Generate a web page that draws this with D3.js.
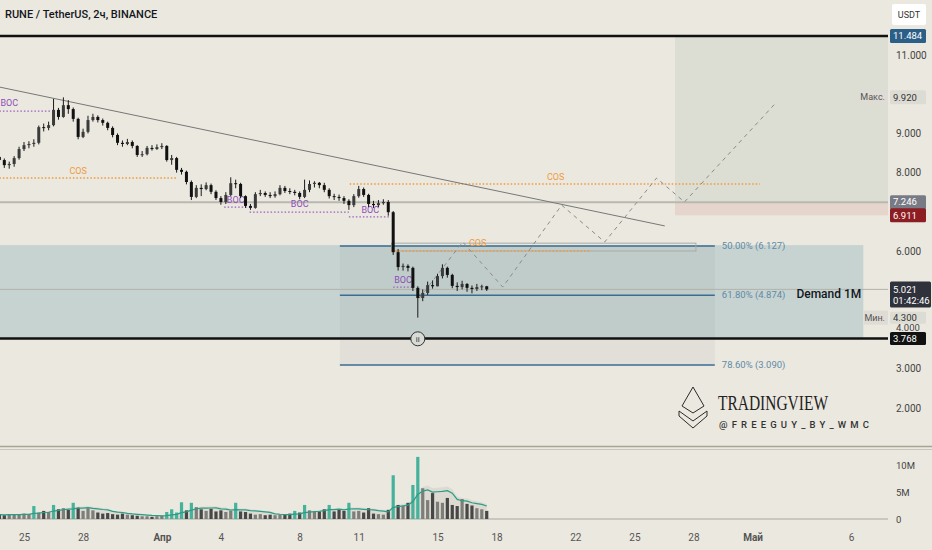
<!DOCTYPE html>
<html>
<head>
<meta charset="utf-8">
<script src="https://cdnjs.cloudflare.com/ajax/libs/d3/7.8.5/d3.min.js"></script>
<style>
  body { margin: 0; background: #ebe8df; overflow: hidden; }
  svg text { font-family: Roboto, "Liberation Sans", sans-serif; }
</style>
</head>
<body>
<div id="chart"></div>
<script>
// Velas de 6 horas, la primera empieza aqui
const startTime = "2024-03-23T18:00:00Z";
const firstOpen = 8.40;

const closes = [
  8.32, 8.19, 8.22, 8.37, 8.60, 8.70, 8.73, 8.76, 9.16, 9.14,
  9.21, 9.60, 9.42, 9.72, 9.62, 9.37, 8.91, 9.04, 9.34, 9.42,
  9.34, 9.27, 9.14, 8.96, 8.76, 8.73, 8.78, 8.68, 8.45, 8.47,
  8.63, 8.60, 8.65, 8.68, 8.32, 8.37, 8.07, 8.02, 7.76, 7.38,
  7.61, 7.58, 7.68, 7.51, 7.35, 7.25, 7.43, 7.73, 7.71, 7.40,
  7.15, 7.10, 7.45, 7.48, 7.43, 7.40, 7.45, 7.61, 7.53, 7.51,
  7.48, 7.38, 7.56, 7.71, 7.74, 7.68, 7.56, 7.40, 7.38, 7.35,
  7.28, 7.17, 7.40, 7.58, 7.43, 7.20, 7.17, 7.22, 7.25, 6.99,
  5.97, 5.59, 5.62, 5.57, 5.06, 4.80, 4.93, 5.13, 5.10, 5.36,
  5.57, 5.39, 5.11, 5.08, 5.16, 5.06, 5.03, 5.08, 5.10, 5.02
];
const highs = [
  8.45, 8.36, 8.28, 8.42, 8.66, 8.78, 8.80, 8.85, 9.20, 9.25,
  9.30, 9.88, 9.65, 9.92, 9.85, 9.66, 9.40, 9.12, 9.45, 9.50,
  9.46, 9.38, 9.30, 9.18, 9.00, 8.82, 8.86, 8.82, 8.70, 8.55,
  8.68, 8.70, 8.72, 8.75, 8.70, 8.45, 8.40, 8.12, 8.05, 7.80,
  7.68, 7.70, 7.75, 7.72, 7.55, 7.40, 7.50, 7.88, 7.82, 7.74,
  7.42, 7.20, 7.50, 7.56, 7.52, 7.50, 7.52, 7.68, 7.66, 7.60,
  7.56, 7.52, 7.82, 7.80, 7.78, 7.76, 7.74, 7.60, 7.46, 7.44,
  7.40, 7.32, 7.45, 7.66, 7.62, 7.46, 7.28, 7.30, 7.32, 7.30,
  7.02, 6.05, 5.68, 5.66, 5.60, 5.10, 5.02, 5.22, 5.25, 5.42,
  5.66, 5.60, 5.42, 5.20, 5.24, 5.18, 5.12, 5.16, 5.14, 5.11
];
const lows = [
  8.25, 8.12, 8.10, 8.15, 8.33, 8.55, 8.62, 8.66, 8.72, 9.05,
  9.08, 9.18, 9.35, 9.40, 9.50, 9.30, 8.85, 8.88, 9.00, 9.30,
  9.28, 9.20, 9.08, 8.90, 8.70, 8.66, 8.70, 8.62, 8.40, 8.40,
  8.44, 8.56, 8.58, 8.60, 8.28, 8.20, 8.00, 7.95, 7.70, 7.30,
  7.35, 7.40, 7.55, 7.45, 7.30, 7.18, 7.20, 7.40, 7.60, 7.35,
  7.10, 7.05, 7.08, 7.40, 7.38, 7.35, 7.36, 7.42, 7.48, 7.45,
  7.42, 7.32, 7.35, 7.50, 7.62, 7.60, 7.50, 7.34, 7.30, 7.28,
  7.20, 7.05, 7.12, 7.36, 7.38, 7.12, 7.10, 7.12, 7.18, 6.90,
  5.90, 5.50, 5.50, 5.48, 4.98, 4.30, 4.72, 4.88, 5.04, 5.10,
  5.30, 5.32, 5.05, 4.98, 5.02, 4.96, 4.92, 4.98, 5.00, 4.98
];
// volumen en millones
const volumes = [
  0.8, 0.7, 0.9, 0.8, 0.9, 1.0, 0.9, 2.4, 1.2, 1.5,
  1.3, 2.6, 1.8, 2.0, 1.7, 3.0, 2.1, 1.5, 2.0, 1.6,
  1.2, 1.0, 1.1, 0.9, 0.8, 1.0, 0.8, 0.7, 0.6, 0.5,
  0.5, 0.4, 0.5, 0.6, 1.3, 1.8, 1.2, 3.1, 1.6, 3.0,
  2.2, 1.8, 1.5, 1.9, 1.4, 1.6, 1.3, 1.5, 3.0, 1.4,
  1.3, 1.0, 0.8, 0.9, 0.7, 0.8, 0.7, 0.8, 0.9, 1.0,
  1.5, 1.2, 2.6, 1.6, 1.3, 1.4, 1.8, 2.6, 1.4, 1.8,
  1.5, 3.0, 1.4, 1.5, 1.2, 2.0, 1.0, 0.9, 0.8, 1.7,
  8.1, 2.6, 2.4, 3.0, 6.3, 11.5, 5.7, 3.5, 4.8, 3.2,
  3.0, 3.9, 2.6, 2.4, 3.7, 2.8, 2.5, 2.0, 1.8, 1.5
];

// Ejes (los ticks tapados por etiquetas no se muestran)
const priceTicks = [2, 3, 4, 6, 8, 9, 11];
const dateTicks = ["2024-03-25", "2024-03-28", "2024-04-01", "2024-04-04", "2024-04-08", "2024-04-11",
  "2024-04-15", "2024-04-18", "2024-04-22", "2024-04-25", "2024-04-28", "2024-05-01", "2024-05-06"];
const dateLabels = ["25", "28", "Апр", "4", "8", "11", "15", "18", "22", "25", "28", "Май", "6"];
const volumeTicks = [0, 5, 10];
const volumeLabels = ["0", "5M", "10M"];

// Niveles horizontales
const topLevel = 11.484;
const bottomLevel = 3.768;
const targetLevel = 7.246;
const stopLevel = 6.911;
const lastPrice = 5.021;
const maxPrice = 9.920;
const minPrice = 4.300;

// Zonas
const targetStart = "2024-04-27T01:30:00Z";
const demandTop = 6.15;
const demandEnd = "2024-05-06T15:00:00Z";

// Fibonacci
const fibLabels = ["50.00%", "61.80%", "78.60%"];
const fibPrices = [6.127, 4.874, 3.090];
const fibStart = "2024-04-10T01:00:00Z";
const fibEnd = "2024-04-29T02:00:00Z";

// Linea de tendencia
const trendDates = ["2024-03-23T18:40:00Z", "2024-04-26T13:00:00Z"];
const trendPrices = [10.18, 6.64];

// Proyeccion (linea discontinua)
const projDates = ["2024-04-14T02:00:00Z", "2024-04-16T06:45:00Z", "2024-04-18T07:30:00Z", "2024-04-21T07:20:00Z",
  "2024-04-23T11:50:00Z", "2024-04-26T03:00:00Z", "2024-04-27T13:00:00Z", "2024-05-02T05:20:00Z"];
const projPrices = [4.80, 6.23, 5.08, 7.17, 6.23, 7.86, 7.25, 9.80];

// BOC (morado)
const bocStarts = ["2024-03-23T18:00:00Z", "2024-04-04T04:00:00Z", "2024-04-05T11:00:00Z", "2024-04-10T12:00:00Z", "2024-04-12T18:00:00Z"];
const bocEnds = ["2024-03-26T10:00:00Z", "2024-04-05T09:00:00Z", "2024-04-10T12:00:00Z", "2024-04-12T14:00:00Z", "2024-04-13T18:00:00Z"];
const bocPrices = [9.57, 7.12, 6.99, 6.87, 5.08];
const bocLabelDates = ["2024-03-24T06:00:00Z", "2024-04-04T18:00:00Z", "2024-04-08T00:00:00Z", "2024-04-11T14:00:00Z", "2024-04-13T06:00:00Z"];
const bocLabelPrices = [9.78, 7.30, 7.20, 7.05, 5.26];

// COS (naranja)
const cosStarts = ["2024-03-23T18:00:00Z", "2024-04-10T13:00:00Z", "2024-04-12T16:00:00Z"];
const cosEnds = ["2024-04-01T19:00:00Z", "2024-05-01T09:00:00Z", "2024-04-22T18:00:00Z"];
const cosPrices = [7.86, 7.71, 6.00];
const cosLabelDates = ["2024-03-27T18:00:00Z", "2024-04-21T00:00:00Z", "2024-04-17T01:00:00Z"];
const cosLabelPrices = [8.04, 7.89, 6.20];
const cosBoxDates = ["2024-04-12T16:00:00Z", "2024-04-28T03:00:00Z"];
const cosBoxPrices = [6.20, 6.00];

function drawChart() {
    const width = 932, height = 550;
    const paneRight = 888;

    const svg = d3.select("#chart")
        .append("svg")
        .attr("width", width)
        .attr("height", height)
        .style("display", "block")
        .style("background-color", "#ebe8df");

    const x = d3.scaleUtc()
        .domain([new Date("2024-03-25T00:00:00Z"), new Date("2024-05-06T00:00:00Z")])
        .range([24, 851]);
    const y = d3.scaleLinear().domain([2, 11]).range([407.8, 55]);
    const yv = d3.scaleLinear().domain([0, 10]).range([519, 465]);
    const t = s => new Date(s);

    svg.append("clipPath").attr("id", "pane")
        .append("rect").attr("x", 0).attr("y", 28).attr("width", paneRight).attr("height", 414);

    const pane = svg.append("g").attr("clip-path", "url(#pane)");

    // Zona objetivo (arriba a la derecha)
    pane.append("rect")
        .attr("x", x(t(targetStart))).attr("y", y(topLevel))
        .attr("width", paneRight - x(t(targetStart)))
        .attr("height", y(targetLevel) - y(topLevel))
        .attr("fill", "rgba(150,170,160,0.17)");
    pane.append("rect")
        .attr("x", x(t(targetStart))).attr("y", y(targetLevel))
        .attr("width", paneRight - x(t(targetStart)))
        .attr("height", y(stopLevel) - y(targetLevel))
        .attr("fill", "rgba(200,120,110,0.16)");

    // Zona de demanda
    pane.append("rect")
        .attr("x", 0).attr("y", y(demandTop))
        .attr("width", x(t(demandEnd)))
        .attr("height", y(bottomLevel) - y(demandTop))
        .attr("fill", "rgba(120,165,175,0.31)");

    // Relleno de fibonacci
    pane.append("rect")
        .attr("x", x(t(fibStart))).attr("y", y(fibPrices[0]))
        .attr("width", x(t(fibEnd)) - x(t(fibStart)))
        .attr("height", y(fibPrices[2]) - y(fibPrices[0]))
        .attr("fill", "rgba(140,150,150,0.10)");

    // Lineas horizontales
    pane.append("line")
        .attr("x1", 0).attr("x2", paneRight)
        .attr("y1", y(targetLevel)).attr("y2", y(targetLevel))
        .attr("stroke", "#b9b8b0").attr("stroke-width", 2);
    pane.append("line")
        .attr("x1", 0).attr("x2", paneRight)
        .attr("y1", y(lastPrice)).attr("y2", y(lastPrice))
        .attr("stroke", "#b3b2aa").attr("stroke-width", 1);

    // Fibonacci
    fibPrices.forEach((p, i) => {
        pane.append("line")
            .attr("x1", x(t(fibStart))).attr("x2", x(t(fibEnd)))
            .attr("y1", y(p)).attr("y2", y(p))
            .attr("stroke", "#3a6d94").attr("stroke-width", 1.5);
        pane.append("text")
            .attr("x", x(t(fibEnd)) + 7).attr("y", y(p)).attr("dy", "0.35em")
            .attr("fill", "#5f8aa8").style("font-size", "9.5px")
            .text(`${fibLabels[i]} (${p.toFixed(3)})`);
    });

    // Caja COS
    pane.append("rect")
        .attr("x", x(t(cosBoxDates[0]))).attr("y", y(cosBoxPrices[0]))
        .attr("width", x(t(cosBoxDates[1])) - x(t(cosBoxDates[0])))
        .attr("height", y(cosBoxPrices[1]) - y(cosBoxPrices[0]))
        .attr("fill", "none").attr("stroke", "#a9aaa4").attr("stroke-width", 1);

    // Lineas COS y BOC
    cosPrices.forEach((p, i) => {
        pane.append("line")
            .attr("x1", x(t(cosStarts[i]))).attr("x2", x(t(cosEnds[i])))
            .attr("y1", y(p)).attr("y2", y(p))
            .attr("stroke", "#f29a3c").attr("stroke-width", 1.5)
            .attr("stroke-dasharray", "1.5,2");
        pane.append("text")
            .attr("x", x(t(cosLabelDates[i]))).attr("y", y(cosLabelPrices[i])).attr("dy", "0.35em")
            .attr("text-anchor", "middle").attr("fill", "#ef9a3e")
            .style("font-size", "9px").text("COS");
    });
    bocPrices.forEach((p, i) => {
        pane.append("line")
            .attr("x1", x(t(bocStarts[i]))).attr("x2", x(t(bocEnds[i])))
            .attr("y1", y(p)).attr("y2", y(p))
            .attr("stroke", "#9b5fc7").attr("stroke-width", 1.3)
            .attr("stroke-dasharray", "1.5,2");
        pane.append("text")
            .attr("x", x(t(bocLabelDates[i]))).attr("y", y(bocLabelPrices[i])).attr("dy", "0.35em")
            .attr("text-anchor", "middle").attr("fill", "#8e4dbb")
            .style("font-size", "9px").text("BOC");
    });

    // Linea de tendencia
    pane.append("line")
        .attr("x1", x(t(trendDates[0]))).attr("y1", y(trendPrices[0]))
        .attr("x2", x(t(trendDates[1]))).attr("y2", y(trendPrices[1]))
        .attr("stroke", "#777").attr("stroke-width", 1);

    // Proyeccion
    const proj = projDates.map((d, i) => [x(t(d)), y(projPrices[i])]);
    pane.append("path")
        .attr("d", d3.line()(proj))
        .attr("fill", "none").attr("stroke", "#8a8c8c").attr("stroke-width", 1)
        .attr("stroke-dasharray", "4,4");

    // Velas
    const t0 = new Date(startTime).getTime();
    const candles = closes.map((c, i) => ({
        t: new Date(t0 + i * 6 * 3600 * 1000),
        o: i === 0 ? firstOpen : closes[i - 1],
        h: highs[i], l: lows[i], c: c, v: volumes[i]
    }));
    const bodyW = 3;

    pane.append("g").selectAll("line")
        .data(candles).enter().append("line")
        .attr("x1", d => x(d.t)).attr("x2", d => x(d.t))
        .attr("y1", d => y(d.h)).attr("y2", d => y(d.l))
        .attr("stroke", "#1b1b1b").attr("stroke-width", 1);
    pane.append("g").selectAll("rect")
        .data(candles).enter().append("rect")
        .attr("x", d => x(d.t) - bodyW / 2)
        .attr("y", d => y(Math.max(d.o, d.c)))
        .attr("width", bodyW)
        .attr("height", d => Math.max(1, Math.abs(y(d.o) - y(d.c))))
        .attr("fill", d => d.c >= d.o ? "#3b3b3b" : "#111");

    // Lineas negras principales
    [topLevel, bottomLevel].forEach(p => {
        pane.append("line")
            .attr("x1", 0).attr("x2", paneRight)
            .attr("y1", y(p)).attr("y2", y(p))
            .attr("stroke", "#111").attr("stroke-width", 2.5);
    });

    // Circulo de onda
    const circle = pane.append("g")
        .attr("transform", `translate(${x(t("2024-04-14T00:00:00Z"))},${y(3.76)})`);
    circle.append("circle").attr("r", 7).attr("fill", "#d7dbd6").attr("stroke", "#333").attr("stroke-width", 1);
    circle.append("text").attr("text-anchor", "middle").attr("dy", "0.35em")
        .style("font-size", "8px").attr("fill", "#333").text("ii");

    // Texto de la zona
    pane.append("text")
        .attr("x", x(t(demandEnd)) - 2).attr("y", y(4.90)).attr("dy", "0.35em")
        .attr("text-anchor", "end").attr("fill", "#131722")
        .style("font-size", "12px").style("font-weight", 500)
        .text("Demand 1M");

    // Marca de agua
    const wm = svg.append("g").attr("fill", "none").attr("stroke", "#2a2a2a").attr("stroke-width", 1);
    wm.append("path").attr("d", "M693,387 L682,406 L693,413 L704,406 Z");
    wm.append("path").attr("d", "M679,411 L693,421 L707,411");
    wm.append("path").attr("d", "M679,411 L679,416 L693,428 L707,416 L707,411");
    svg.append("text")
        .attr("x", 718).attr("y", 410)
        .attr("textLength", 110).attr("lengthAdjust", "spacingAndGlyphs")
        .style("font-family", "'Liberation Serif', 'DejaVu Serif', serif")
        .style("font-size", "21px").attr("fill", "#222")
        .text("TRADINGVIEW");
    svg.append("text")
        .attr("x", 719).attr("y", 428)
        .attr("textLength", 150).attr("lengthAdjust", "spacing")
        .style("font-size", "9.5px").style("font-weight", 500).attr("fill", "#333")
        .text("@FREEGUY_BY_WMC");

    // Panel de volumen
    const ma = volumes.map((v, i) => {
        const s = volumes.slice(Math.max(0, i - 7), i + 1);
        return d3.mean(s);
    });
    svg.append("line")
        .attr("x1", 0).attr("x2", paneRight).attr("y1", yv(0)).attr("y2", yv(0))
        .attr("stroke", "#a9a79e").attr("stroke-width", 1);
    svg.append("path")
        .attr("d", d3.area().x((d, i) => x(candles[i].t)).y0(yv(0)).y1(d => yv(d * 1.15))(ma))
        .attr("fill", "rgba(120,120,120,0.12)");
    svg.append("g").selectAll("rect")
        .data(candles).enter().append("rect")
        .attr("x", d => x(d.t) - 1.6)
        .attr("y", d => yv(d.v))
        .attr("width", 3.2)
        .attr("height", d => yv(0) - yv(d.v))
        .attr("fill", (d, i) => d.v > ma[i] * 1.4 ? "#45b39b" : (d.c >= d.o ? "#7d7d79" : "#474747"));
    svg.append("path")
        .attr("d", d3.line().x((d, i) => x(candles[i].t)).y(d => yv(d))(ma))
        .attr("fill", "none").attr("stroke", "#2b9c86").attr("stroke-width", 1.2);

    // Separador entre paneles
    svg.append("line").attr("x1", 0).attr("x2", width).attr("y1", 446.5).attr("y2", 446.5)
        .attr("stroke", "#a7a397").attr("stroke-width", 1.5);
    svg.append("line").attr("x1", 0).attr("x2", width).attr("y1", 449.5).attr("y2", 449.5)
        .attr("stroke", "#c9c5b9").attr("stroke-width", 1);

    // Eje de precios
    const priceAxis = svg.append("g")
        .attr("transform", `translate(894,0)`)
        .call(d3.axisRight(y).tickValues(priceTicks).tickSize(0).tickPadding(2).tickFormat(d3.format(".3f")));
    priceAxis.select(".domain").remove();
    priceAxis.selectAll("text").attr("fill", "#444").style("font-size", "10px");
    // el 4.000 queda pegado a la etiqueta 3.768, se sube un poco
    priceAxis.selectAll(".tick").filter(d => d === 4).select("text")
        .attr("dy", "0.1em").style("font-size", "9.5px");

    const volAxis = svg.append("g")
        .attr("transform", `translate(894,0)`)
        .call(d3.axisRight(yv).tickValues(volumeTicks).tickSize(0).tickPadding(2).tickFormat((d, i) => volumeLabels[i]));
    volAxis.select(".domain").remove();
    volAxis.selectAll("text").attr("fill", "#444").style("font-size", "9.5px");

    // Eje de fechas
    const dateAxis = svg.append("g")
        .attr("transform", `translate(0,529)`)
        .call(d3.axisBottom(x).tickValues(dateTicks.map(d => new Date(d + "T00:00:00Z")))
            .tickSize(0).tickPadding(5).tickFormat((d, i) => dateLabels[i]));
    dateAxis.select(".domain").remove();
    dateAxis.selectAll("text")
        .attr("fill", "#555").style("font-size", "10px")
        .style("font-weight", (d, i) => isNaN(+dateLabels[i]) ? 700 : 400);

    // Etiquetas de precio a la derecha
    function priceTag(p, txt, fill, color, h) {
        const hh = h || 14;
        const g = svg.append("g").attr("transform", `translate(890,${y(p)})`);
        g.append("rect").attr("x", 0).attr("y", -hh / 2).attr("width", 36).attr("height", hh)
            .attr("rx", 1.5).attr("fill", fill);
        g.append("text").attr("x", 3).attr("dy", "0.35em").attr("fill", color)
            .style("font-size", "9.5px").text(txt);
        return g;
    }
    priceTag(topLevel, topLevel.toFixed(3), "#2c5f87", "#fff");
    priceTag(maxPrice, maxPrice.toFixed(3), "#dddcd4", "#333");
    priceTag(targetLevel, targetLevel.toFixed(3), "#787b86", "#fff");
    priceTag(stopLevel, stopLevel.toFixed(3), "#8c1d22", "#fff");
    priceTag(minPrice, minPrice.toFixed(3), "#dddcd4", "#333", 12);
    priceTag(bottomLevel, bottomLevel.toFixed(3), "#111", "#fff", 13);

    // Maximo y minimo
    [[maxPrice, "Макс."], [minPrice, "Мин."]].forEach(([p, txt]) => {
        const g = svg.append("g").attr("transform", `translate(888,${y(p)})`);
        g.append("rect").attr("x", -24).attr("y", -7).attr("width", 24).attr("height", 14)
            .attr("fill", "#dedcd4");
        g.append("text").attr("x", -3).attr("dy", "0.35em").attr("text-anchor", "end")
            .attr("fill", "#555").style("font-size", "9px").text(txt);
    });

    // Ultimo precio con cuenta atras
    const last = svg.append("g").attr("transform", `translate(890,${y(lastPrice)})`);
    last.append("rect").attr("x", 0).attr("y", -8).attr("width", 41).attr("height", 26)
        .attr("rx", 1.5).attr("fill", "#2f323b");
    last.append("text").attr("x", 3).attr("dy", "0.35em").attr("fill", "#fff")
        .style("font-size", "9.5px").text(lastPrice.toFixed(3));
    last.append("text").attr("x", 3).attr("y", 11).attr("dy", "0.35em").attr("fill", "#fff")
        .style("font-size", "9.5px").text("01:42:46");

    // Titulo
    svg.append("text")
        .attr("x", 5).attr("y", 18)
        .attr("fill", "#131722").style("font-size", "11px").style("font-weight", 500)
        .text("RUNE / TetherUS, 2ч, BINANCE");

    // Moneda
    svg.append("rect").attr("x", 892).attr("y", 4).attr("width", 34).attr("height", 21)
        .attr("rx", 2).attr("fill", "#fff");
    svg.append("text").attr("x", 909).attr("y", 14.5).attr("dy", "0.35em")
        .attr("text-anchor", "middle").attr("fill", "#333").style("font-size", "9px").text("USDT");
}

drawChart();
</script>
</body>
</html>
